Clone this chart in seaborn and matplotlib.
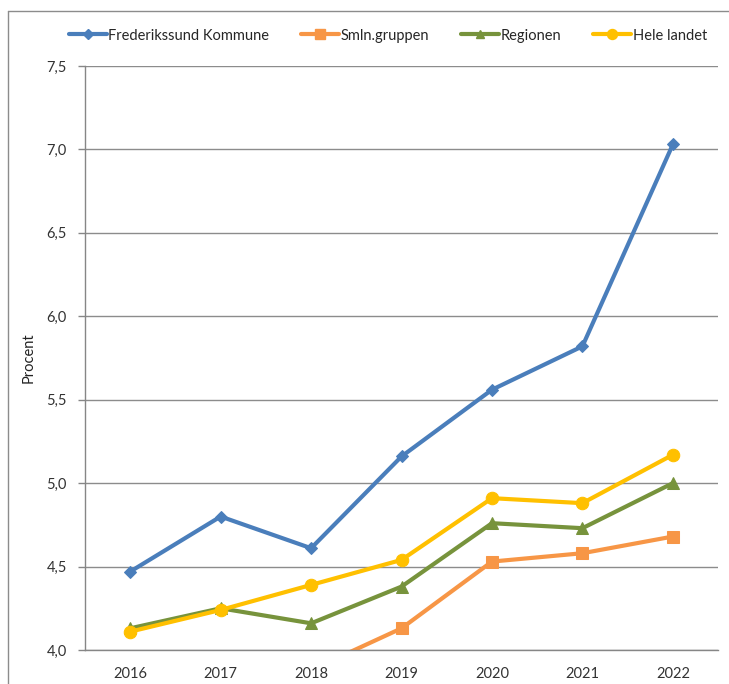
import numpy as np
import pandas as pd
import matplotlib
matplotlib.use('Agg')
import matplotlib.pyplot as plt
import seaborn as sns
from matplotlib.lines import Line2D

years = ['2016', '2017', '2018', '2019', '2020', '2021', '2022']
frederikssund = [4.47, 4.80, 4.61, 5.16, 5.56, 5.82, 7.03]
smln_gruppen = [np.nan, np.nan, 3.88, 4.13, 4.53, 4.58, 4.68]
regionen = [4.13, 4.25, 4.16, 4.38, 4.76, 4.73, 5.00]
hele_landet = [4.11, 4.24, 4.39, 4.54, 4.91, 4.88, 5.17]

series = {
    'Frederikssund Kommune': (frederikssund, '#4a7ebb', 'D', 6),
    'Smln.gruppen': (smln_gruppen, '#f79646', 's', 8.5),
    'Regionen': (regionen, '#77933c', '^', 8),
    'Hele landet': (hele_landet, '#ffc000', 'o', 9),
}

sns.set_style('white')
plt.rcParams['font.family'] = ['Lato', 'DejaVu Sans']

fig = plt.figure(figsize=(7.29, 6.84), dpi=100)
ax = fig.add_axes([0.1166, 0.0497, 0.8684, 0.8538])

pos = np.arange(len(years))
for name, (vals, color, marker, ms) in series.items():
    sns.lineplot(x=pos, y=vals, ax=ax, color=color, marker=marker, markersize=ms,
                 markeredgecolor=color, linewidth=3, label=name, legend=False)

ax.set_xlim(-0.5, 6.5)
ax.set_ylim(4.0, 7.5)
yt = np.arange(4.0, 7.51, 0.5)
ax.set_yticks(yt)
ax.set_yticklabels([f'{v:.1f}'.replace('.', ',') for v in yt], fontsize=10.5, color='#333333')
ax.set_xticks(pos)
ax.set_xticklabels(years, fontsize=10.5, color='#333333')
ax.set_xticks(np.arange(-0.5, 7, 1), minor=True)
ax.tick_params(axis='x', which='major', length=0, pad=12)
ax.tick_params(axis='x', which='minor', length=5, color='#868686', width=1)
ax.tick_params(axis='y', length=5, color='#868686', width=1, pad=8, direction='out', left=True)
ax.grid(axis='y', color='#8c8c8c', linewidth=1)
ax.set_axisbelow(True)
for s in ['top', 'right']:
    ax.spines[s].set_visible(False)
for s in ['left', 'bottom']:
    ax.spines[s].set_color('#868686')
    ax.spines[s].set_linewidth(1)
ax.set_ylabel('Procent', fontsize=10.5, color='#222222', labelpad=8)

handles = [Line2D([], [], color=c, marker=m, markersize=ms * 0.8, markeredgecolor=c, linewidth=3)
           for (v, c, m, ms) in series.values()]
fig.legend(handles, list(series.keys()), loc='center', bbox_to_anchor=(0.532, 0.948), ncol=4,
           frameon=False, fontsize=10.5, handlelength=2.6, columnspacing=2.2, handletextpad=0.1)

# outer frame lines (top and left)
fig.add_artist(Line2D([8 / 729, 1.0], [1 - 11 / 684, 1 - 11 / 684], transform=fig.transFigure,
                      color='#8c8c8c', linewidth=1))
fig.add_artist(Line2D([8 / 729, 8 / 729], [0.0, 1 - 11 / 684], transform=fig.transFigure,
                      color='#8c8c8c', linewidth=1))

fig.savefig('out.png', dpi=100)
